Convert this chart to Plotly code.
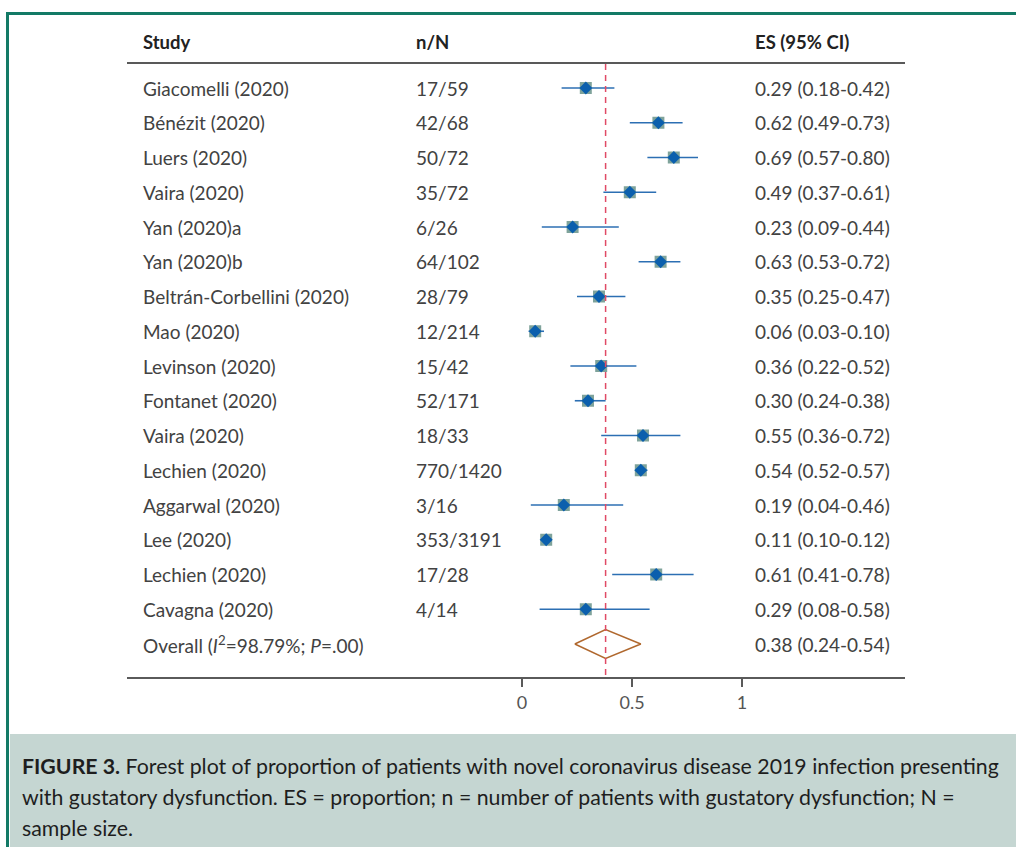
import plotly.graph_objects as go

studies = ["Giacomelli (2020)", "Bénézit (2020)", "Luers (2020)", "Vaira (2020)",
           "Yan (2020)a", "Yan (2020)b", "Beltrán-Corbellini (2020)", "Mao (2020)",
           "Levinson (2020)", "Fontanet (2020)", "Vaira (2020)", "Lechien (2020)",
           "Aggarwal (2020)", "Lee (2020)", "Lechien (2020)", "Cavagna (2020)"]
nN = ["17/59", "42/68", "50/72", "35/72", "6/26", "64/102", "28/79", "12/214",
      "15/42", "52/171", "18/33", "770/1420", "3/16", "353/3191", "17/28", "4/14"]
es = [0.29, 0.62, 0.69, 0.49, 0.23, 0.63, 0.35, 0.06, 0.36, 0.30, 0.55, 0.54, 0.19, 0.11, 0.61, 0.29]
lo = [0.18, 0.49, 0.57, 0.37, 0.09, 0.53, 0.25, 0.03, 0.22, 0.24, 0.36, 0.52, 0.04, 0.10, 0.41, 0.08]
hi = [0.42, 0.73, 0.80, 0.61, 0.44, 0.72, 0.47, 0.10, 0.52, 0.38, 0.72, 0.57, 0.46, 0.12, 0.78, 0.58]
overall_label = "Overall (<i>I</i><sup>2</sup>=98.79%; <i>P</i>=.00)"
overall_es, overall_lo, overall_hi = 0.38, 0.24, 0.54
tick_vals = [0, 0.5, 1]
tick_text = ["0", "0.5", "1"]

W, H = 1016, 847
X0PX, UNIT = 522, 220          # pixel of x=0, pixels per unit
Y0PX, ROW = 88, 34.75          # pixel of row 0, pixels per row

def px2x(p):
    return (p - X0PX) / UNIT

def py2row(p):
    return (p - Y0PX) / ROW

def py2paper(p):
    return 1 - p / H

FONT = "Lato"
TXT = "#424242"
rows = list(range(len(studies)))
orow = len(studies)

fig = go.Figure()

fig.add_trace(go.Scatter(
    x=es, y=rows, mode="markers",
    marker=dict(symbol="square", size=12, color="#7fa39b", line=dict(width=0)),
    error_x=dict(type="data", symmetric=False,
                 array=[h - e for h, e in zip(hi, es)],
                 arrayminus=[e - l for e, l in zip(es, lo)],
                 color="#2c6fb3", thickness=1.6, width=0),
    hoverinfo="skip", showlegend=False))
fig.add_trace(go.Scatter(
    x=es, y=rows, mode="markers",
    marker=dict(symbol="diamond", size=10, color="#0b5fad", line=dict(width=0)),
    hoverinfo="skip", showlegend=False))

dh = 14.5 / ROW
fig.add_trace(go.Scatter(
    x=[overall_lo, overall_es, overall_hi, overall_es, overall_lo],
    y=[orow, orow - dh, orow, orow + dh, orow],
    mode="lines", line=dict(color="#b0682e", width=1.5),
    hoverinfo="skip", showlegend=False))

ann = []
def add_text(xpx, row, text, size=19, bold=False):
    ann.append(dict(x=xpx / W, xref="paper", y=row, yref="y", text=f"<b>{text}</b>" if bold else text,
                    showarrow=False, xanchor="left", yanchor="middle",
                    font=dict(family=FONT, size=size, color="#222" if bold else TXT)))

hrow = py2row(42)
add_text(141, hrow, "Study", 18.5, True)
add_text(414, hrow, "n/N", 18.5, True)
add_text(753, hrow, "ES (95% CI)", 18.5, True)

for i in rows:
    add_text(141, i, studies[i])
    add_text(414, i, nN[i])
    add_text(753, i, f"{es[i]:.2f} ({lo[i]:.2f}-{hi[i]:.2f})")
add_text(141, orow, overall_label)
add_text(753, orow, f"{overall_es:.2f} ({overall_lo:.2f}-{overall_hi:.2f})")

cap_lines = [
    "<b>FIGURE 3.</b> Forest plot of proportion of patients with novel coronavirus disease 2019 infection presenting",
    "with gustatory dysfunction. ES = proportion; n = number of patients with gustatory dysfunction; N =",
    "sample size.",
]
for k, line in enumerate(cap_lines):
    ann.append(dict(x=20 / W, xref="paper", y=py2paper(766 + 31 * k), yref="paper", text=line,
                    showarrow=False, xanchor="left", yanchor="middle",
                    font=dict(family=FONT, size=21.3, color="#1e1e1e")))

shapes = [
    dict(type="rect", xref="paper", yref="paper", x0=10 / W, x1=1, y0=0, y1=py2paper(734),
         fillcolor="#c5d6d2", line=dict(width=0), layer="below"),
    dict(type="line", xref="paper", yref="paper", x0=6 / W, x1=1, y0=py2paper(13.5), y1=py2paper(13.5),
         line=dict(color="#137a66", width=3)),
    dict(type="line", xref="paper", yref="paper", x0=7.5 / W, x1=7.5 / W, y0=py2paper(12), y1=0,
         line=dict(color="#137a66", width=3)),
    dict(type="line", xref="paper", yref="paper", x0=127 / W, x1=905 / W, y0=py2paper(63), y1=py2paper(63),
         line=dict(color="#222", width=1.5)),
    dict(type="line", xref="paper", yref="paper", x0=127 / W, x1=905 / W, y0=py2paper(678), y1=py2paper(678),
         line=dict(color="#5a5a5a", width=2)),
    dict(type="line", xref="x", yref="paper", x0=overall_es, x1=overall_es, y0=py2paper(64), y1=py2paper(678),
         line=dict(color="#e04a66", width=1.5, dash="6px,5px")),
]

fig.update_layout(
    width=W, height=H, margin=dict(l=0, r=0, t=0, b=0),
    paper_bgcolor="white", plot_bgcolor="rgba(0,0,0,0)",
    xaxis=dict(range=[px2x(0), px2x(W)], showgrid=False, zeroline=False, showline=False,
               tickvals=tick_vals, ticktext=tick_text, ticks="outside", ticklen=8, tickwidth=1.5,
               tickcolor="#5a5a5a", anchor="free", position=py2paper(678),
               tickfont=dict(family=FONT, size=18, color="#555")),
    yaxis=dict(range=[py2row(H), py2row(0)], visible=False),
    annotations=ann, shapes=shapes,
)

fig.write_html("out.html", config={"displayModeBar": False},
               post_script="document.body.style.margin='0';document.body.style.overflow='hidden';")
